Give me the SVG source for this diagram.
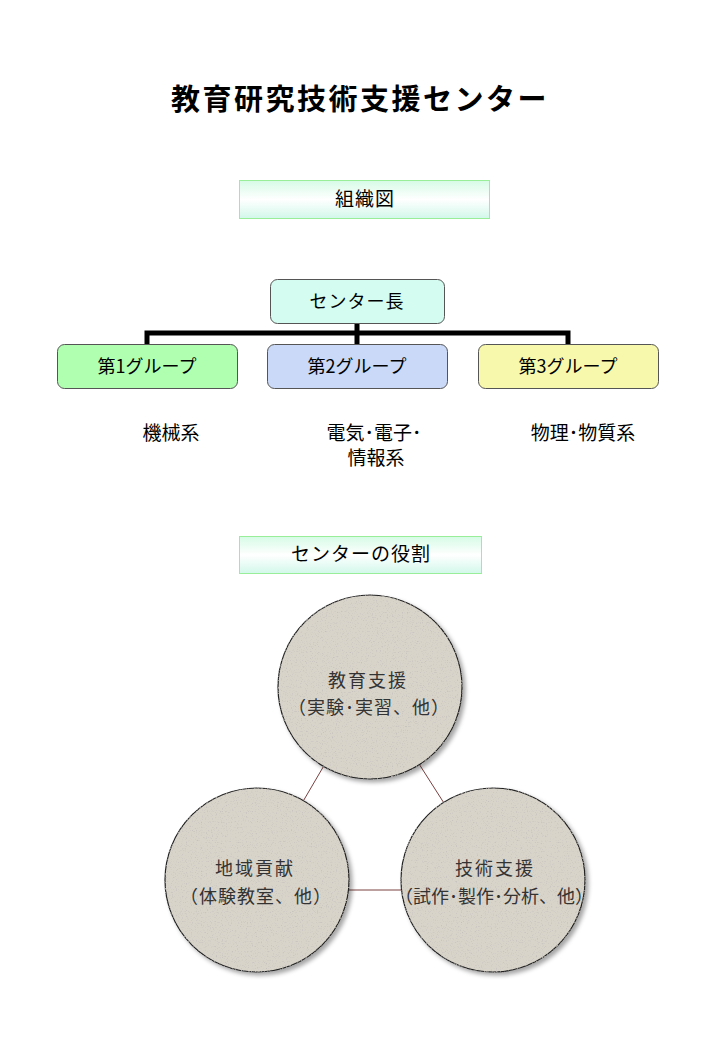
<svg xmlns="http://www.w3.org/2000/svg" width="720" height="1040" viewBox="0 0 720 1040">
<style>
text{font-family:"Noto Sans CJK JP","Noto Sans CJK SC",sans-serif;fill:#000}
.title{font-size:29px;font-weight:bold}
.hdr{fill:url(#hg);stroke:#99ee99;stroke-width:1}
.ht{font-size:19px}
.org{stroke:#555;stroke-width:1}
.gt{font-size:18px}
.sub{font-size:19px}
.circ{fill:#d9d4ca;stroke:#222;stroke-width:1.2;filter:url(#stone)}
.ct{font-size:18px;fill:#333}
.conn{stroke:#7a4040;stroke-width:1;fill:none}
</style>
<defs>
<linearGradient id="hg" x1="0" y1="0" x2="0" y2="1">
<stop offset="0" stop-color="#d6fbe6"/>
<stop offset="0.5" stop-color="#ffffff"/>
<stop offset="1" stop-color="#d2f8ea"/>
</linearGradient>
<filter id="stone" x="-10%" y="-10%" width="125%" height="125%">
<feTurbulence type="fractalNoise" baseFrequency="0.8" numOctaves="2" seed="3" result="n"/>
<feColorMatrix in="n" type="matrix" values="0 0 0 0 0.55  0 0 0 0 0.53  0 0 0 0 0.50  0 0 0 -3 1.35" result="spk"/>
<feComposite in="spk" in2="SourceGraphic" operator="in" result="spk2"/>
<feGaussianBlur in="SourceAlpha" stdDeviation="2" result="b"/>
<feOffset in="b" dx="3" dy="3" result="sh"/>
<feFlood flood-color="#000" flood-opacity="0.35"/>
<feComposite in2="sh" operator="in" result="shadow"/>
<feMerge><feMergeNode in="shadow"/><feMergeNode in="SourceGraphic"/><feMergeNode in="spk2"/></feMerge>
</filter>
</defs>
<rect width="720" height="1040" fill="#fff"/>
<text class="title" x="360" y="110" text-anchor="middle" letter-spacing="2.5">教育研究技術支援センター</text>

<g id="hdr-org">
<rect class="hdr" x="239.5" y="180.5" width="250" height="38"/>
<text class="ht" x="365" y="206" text-anchor="middle" letter-spacing="1">組織図</text>
</g>

<g id="connectors">
<path d="M147 344 V333 H568 V344 M357 323 V344" stroke="#000" stroke-width="5" fill="none"/>
<line class="conn" x1="370" y1="687" x2="257" y2="880"/>
<line class="conn" x1="370" y1="687" x2="493" y2="880"/>
<line class="conn" x1="257" y1="890" x2="493" y2="890"/>
</g>

<g id="node-head">
<rect class="org" x="270.5" y="279.5" width="174" height="44" rx="7" fill="#d4fcf0"/>
<text class="gt" x="357" y="308" text-anchor="middle" letter-spacing="1">センター長</text>
</g>
<g id="node-g1">
<rect class="org" x="57.5" y="344.5" width="180" height="44" rx="7" fill="#b0ffb0"/>
<text class="gt" x="147" y="373" text-anchor="middle">第1グループ</text>
</g>
<g id="node-g2">
<rect class="org" x="267.5" y="344.5" width="180" height="44" rx="7" fill="#c9d9f7"/>
<text class="gt" x="357" y="373" text-anchor="middle">第2グループ</text>
</g>
<g id="node-g3">
<rect class="org" x="478.5" y="344.5" width="180" height="44" rx="7" fill="#f8f8ac"/>
<text class="gt" x="568" y="373" text-anchor="middle">第3グループ</text>
</g>

<g id="labels">
<text class="sub" x="171" y="440" text-anchor="middle">機械系</text>
<text class="sub" x="374" y="440" text-anchor="middle">電気･電子･</text>
<text class="sub" x="376" y="465" text-anchor="middle">情報系</text>
<text class="sub" x="583" y="440" text-anchor="middle">物理･物質系</text>
</g>

<g id="hdr-role">
<rect class="hdr" x="239.5" y="536.5" width="242" height="37"/>
<text class="ht" x="361" y="561" text-anchor="middle" letter-spacing="1">センターの役割</text>
</g>

<g id="node-edu">
<circle class="circ" cx="370" cy="687" r="92"/>
<text class="ct" x="368" y="687" text-anchor="middle" letter-spacing="2">教育支援</text>
<text class="ct" x="369" y="714" text-anchor="middle" letter-spacing="1">（実験･実習、他）</text>
</g>
<g id="node-local">
<circle class="circ" cx="257" cy="880" r="92"/>
<text class="ct" x="255" y="875" text-anchor="middle" letter-spacing="2">地域貢献</text>
<text class="ct" x="256" y="903" text-anchor="middle" letter-spacing="1">（体験教室、他）</text>
</g>
<g id="node-tech">
<circle class="circ" cx="493" cy="880" r="92"/>
<text class="ct" x="495" y="875" text-anchor="middle" letter-spacing="2">技術支援</text>
<text class="ct" x="494" y="903" text-anchor="middle">（試作･製作･分析、他）</text>
</g>
</svg>
